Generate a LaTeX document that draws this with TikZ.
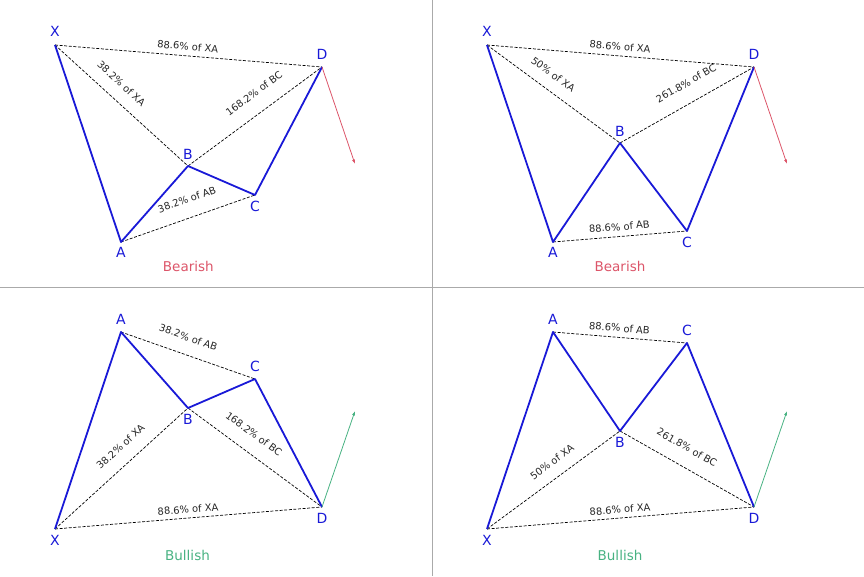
\documentclass[tikz,border=0pt]{standalone}
\usepackage{fontspec}
\setmainfont{DejaVu Sans}
\usetikzlibrary{calc,arrows.meta}
\definecolor{patblue}{RGB}{25,25,215}
\definecolor{bearred}{RGB}{220,85,105}
\definecolor{bullgreen}{RGB}{72,178,130}
\definecolor{divgray}{RGB}{170,170,170}
\tikzset{
  leg/.style={patblue, line width=1.8pt, line join=round},
  ratio/.style={black, line width=0.7pt, dash pattern=on 3pt off 1.6pt},
  ratiolbl/.style={font=\fontsize{9.9}{11}\selectfont, inner sep=0pt, text=black!85},
  ptlbl/.style={font=\fontsize{14}{16}\selectfont, text=patblue, inner sep=0pt},
  ttl/.style={font=\fontsize{13.5}{16}\selectfont, inner sep=0pt},
  bearmove/.style={bearred, line width=0.8pt, -{Latex[length=4.5pt,width=3.2pt]}},
  bullmove/.style={bullgreen, line width=0.8pt, -{Latex[length=4.5pt,width=3.2pt]}},
  divider/.style={divgray, line width=1pt}
}
\begin{document}
\begin{tikzpicture}[x=1pt,y=1pt]
\useasboundingbox (0,0) rectangle (864,576);
% dividers
\coordinate (vt) at (432,576); \coordinate (vb) at (432,0);
\coordinate (hl) at (0,288); \coordinate (hr) at (864,288);
\draw[divider] (vt) -- (vb);
\draw[divider] (hl) -- (hr);

% ---------- Panel 1 (top-left, bearish) ----------
\coordinate (X1) at (55,531); \coordinate (A1) at (121,334);
\coordinate (B1) at (188,410); \coordinate (C1) at (255,381);
\coordinate (D1) at (322,509); \coordinate (E1) at (355,412);
\draw[ratio] (X1) -- (D1);
\draw[ratio] (X1) -- (B1);
\draw[ratio] (B1) -- (D1);
\draw[ratio] (A1) -- (C1);
\draw[leg] (X1) -- (A1) -- (B1) -- (C1) -- (D1);
\draw[bearmove] (D1) -- (E1);
\node[ratiolbl, rotate=-4.71] (r1a) at ($(X1)!0.5!(D1)+(-0.7,9.5)$) {88.6\% of XA};
\node[ratiolbl, rotate=-42.3] (r1b) at ($(X1)!0.5!(B1)+(0,22)$) {38.2\% of XA};
\node[ratiolbl, rotate=36.45] (r1c) at ($(B1)!0.5!(D1)+(-1,23.2)$) {168.2\% of BC};
\node[ratiolbl, rotate=19.33] (r1d) at ($(A1)!0.5!(C1)+(-1.2,19)$) {38.2\% of AB};
\node[ptlbl] (lX1) at ($(X1)+(0,13.5)$) {X};
\node[ptlbl] (lA1) at ($(A1)+(0,-10.8)$) {A};
\node[ptlbl] (lB1) at ($(B1)+(0,12)$) {B};
\node[ptlbl] (lC1) at ($(C1)+(0,-11.3)$) {C};
\node[ptlbl] (lD1) at ($(D1)+(0,13)$) {D};
\node[ttl, text=bearred] (t1) at (188.3,309.3) {Bearish};

% ---------- Panel 2 (top-right, bearish) ----------
\coordinate (X2) at (487,531); \coordinate (A2) at (553,334);
\coordinate (B2) at (620,433); \coordinate (C2) at (687,345);
\coordinate (D2) at (754,509); \coordinate (E2) at (787,412);
\draw[ratio] (X2) -- (D2);
\draw[ratio] (X2) -- (B2);
\draw[ratio] (B2) -- (D2);
\draw[ratio] (A2) -- (C2);
\draw[leg] (X2) -- (A2) -- (B2) -- (C2) -- (D2);
\draw[bearmove] (D2) -- (E2);
\node[ratiolbl, rotate=-4.71] (r2a) at ($(X2)!0.5!(D2)+(-0.5,9.3)$) {88.6\% of XA};
\node[ratiolbl, rotate=-36.38] (r2b) at ($(X2)!0.5!(B2)+(-0.2,19.5)$) {50\% of XA};
\node[ratiolbl, rotate=29.56] (r2c) at ($(B2)!0.5!(D2)+(-1,21.7)$) {261.8\% of BC};
\node[ratiolbl, rotate=4.69] (r2d) at ($(A2)!0.5!(C2)+(-0.7,9.8)$) {88.6\% of AB};
\node[ptlbl] (lX2) at ($(X2)+(0,13.5)$) {X};
\node[ptlbl] (lA2) at ($(A2)+(0,-10.8)$) {A};
\node[ptlbl] (lB2) at ($(B2)+(0,12)$) {B};
\node[ptlbl] (lC2) at ($(C2)+(0,-11.3)$) {C};
\node[ptlbl] (lD2) at ($(D2)+(0,13)$) {D};
\node[ttl, text=bearred] (t2) at (620,309.3) {Bearish};

% ---------- Panel 3 (bottom-left, bullish) ----------
\coordinate (X3) at (55,47); \coordinate (A3) at (121,244);
\coordinate (B3) at (188,168); \coordinate (C3) at (255,197);
\coordinate (D3) at (322,69); \coordinate (E3) at (355,165);
\draw[ratio] (X3) -- (D3);
\draw[ratio] (X3) -- (B3);
\draw[ratio] (B3) -- (D3);
\draw[ratio] (A3) -- (C3);
\draw[leg] (X3) -- (A3) -- (B3) -- (C3) -- (D3);
\draw[bullmove] (D3) -- (E3);
\node[ratiolbl, rotate=-19.33] (r3a) at ($(A3)!0.5!(C3)+(0.3,18.2)$) {38.2\% of AB};
\node[ratiolbl, rotate=42.3] (r3b) at ($(X3)!0.5!(B3)+(-1,22)$) {38.2\% of XA};
\node[ratiolbl, rotate=-36.45] (r3c) at ($(B3)!0.5!(D3)+(-1,23.5)$) {168.2\% of BC};
\node[ratiolbl, rotate=4.71] (r3d) at ($(X3)!0.5!(D3)+(-0.5,8.7)$) {88.6\% of XA};
\node[ptlbl] (lX3) at ($(X3)+(0,-11)$) {X};
\node[ptlbl] (lA3) at ($(A3)+(0,12.5)$) {A};
\node[ptlbl] (lB3) at ($(B3)+(0,-11)$) {B};
\node[ptlbl] (lC3) at ($(C3)+(0,12.5)$) {C};
\node[ptlbl] (lD3) at ($(D3)+(0,-11.5)$) {D};
\node[ttl, text=bullgreen] (t3) at (187.5,20.3) {Bullish};

% ---------- Panel 4 (bottom-right, bullish) ----------
\coordinate (X4) at (487,47); \coordinate (A4) at (553,244);
\coordinate (B4) at (620,145); \coordinate (C4) at (687,233);
\coordinate (D4) at (754,69); \coordinate (E4) at (787,165);
\draw[ratio] (X4) -- (D4);
\draw[ratio] (X4) -- (B4);
\draw[ratio] (B4) -- (D4);
\draw[ratio] (A4) -- (C4);
\draw[leg] (X4) -- (A4) -- (B4) -- (C4) -- (D4);
\draw[bullmove] (D4) -- (E4);
\node[ratiolbl, rotate=-4.69] (r4a) at ($(A4)!0.5!(C4)+(-0.5,9.5)$) {88.6\% of AB};
\node[ratiolbl, rotate=36.38] (r4b) at ($(X4)!0.5!(B4)+(-1.5,18)$) {50\% of XA};
\node[ratiolbl, rotate=-29.56] (r4c) at ($(B4)!0.5!(D4)+(0,21.7)$) {261.8\% of BC};
\node[ratiolbl, rotate=4.71] (r4d) at ($(X4)!0.5!(D4)+(-0.5,8.5)$) {88.6\% of XA};
\node[ptlbl] (lX4) at ($(X4)+(0,-11)$) {X};
\node[ptlbl] (lA4) at ($(A4)+(0,12.5)$) {A};
\node[ptlbl] (lB4) at ($(B4)+(0,-11)$) {B};
\node[ptlbl] (lC4) at ($(C4)+(0,12.5)$) {C};
\node[ptlbl] (lD4) at ($(D4)+(0,-11.5)$) {D};
\node[ttl, text=bullgreen] (t4) at (620,20.3) {Bullish};
\end{tikzpicture}
\end{document}
